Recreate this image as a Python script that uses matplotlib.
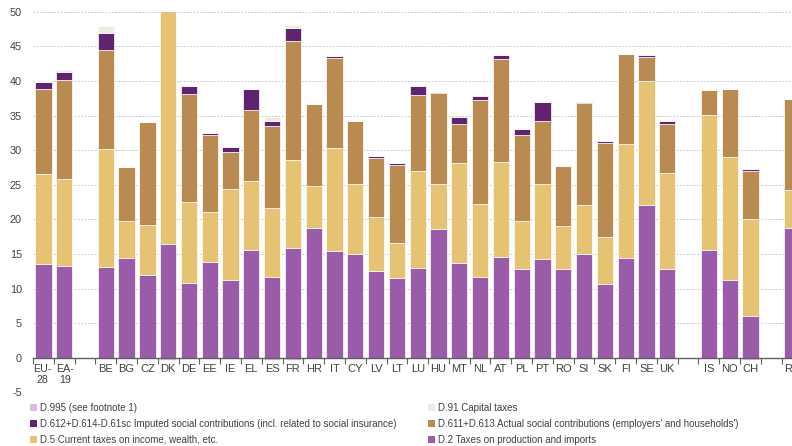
import numpy as np
import matplotlib.pyplot as plt
from matplotlib.patches import Patch

plt.rcParams['font.family'] = ['Liberation Sans', 'DejaVu Sans']
plt.rcParams['axes.unicode_minus'] = False

# categories ("" marks a gap between country groups)
categories = ["EU-\n28", "EA-\n19", "",
              "BE", "BG", "CZ", "DK", "DE", "EE", "IE", "EL", "ES", "FR",
              "HR", "IT", "CY", "LV", "LT", "LU", "HU", "MT", "NL", "AT",
              "PL", "PT", "RO", "SI", "SK", "FI", "SE", "UK", "",
              "IS", "NO", "CH", "", "RS"]

nan = np.nan
# D.2 Taxes on production and imports
d2 = [13.5, 13.2, nan,
      13.1, 14.4, 12.0, 16.5, 10.8, 13.85, 11.2, 15.6, 11.6, 15.8,
      18.75, 15.4, 14.95, 12.55, 11.45, 13.0, 18.55, 13.65, 11.6, 14.5,
      12.8, 14.2, 12.75, 15.05, 10.7, 14.35, 22.0, 12.8, nan,
      15.6, 11.3, 6.0, nan, 18.75]
# D.5 Current taxes on income, wealth, etc.
d5 = [13.0, 12.6, nan,
      17.0, 5.3, 7.2, 33.8, 11.75, 7.25, 13.2, 9.95, 10.0, 12.7,
      6.05, 14.9, 10.2, 7.8, 5.1, 13.95, 6.6, 14.45, 10.65, 13.8,
      6.9, 10.95, 6.25, 7.05, 6.75, 16.6, 18.0, 13.85, nan,
      19.5, 17.75, 14.05, nan, 5.55]
# D.611+D.613 Actual social contributions
d611 = [12.3, 14.4, nan,
        14.3, 7.85, 14.9, 0.6, 15.55, 11.1, 5.3, 10.3, 11.9, 17.2,
        11.9, 13.0, 9.05, 8.55, 11.3, 11.05, 13.1, 5.7, 15.05, 14.8,
        12.55, 9.05, 8.7, 14.65, 13.65, 12.9, 3.5, 7.1, nan,
        3.65, 9.85, 7.0, nan, 13.15]
# D.612+D.614-D.61sc Imputed social contributions
d612 = [1.0, 1.1, nan,
        2.5, 0.0, 0.0, 0.0, 1.2, 0.3, 0.7, 3.0, 0.7, 2.0,
        0.0, 0.3, 0.0, 0.3, 0.25, 1.3, 0.2, 1.05, 0.5, 0.6,
        0.85, 2.8, 0.0, 0.2, 0.15, 0.0, 0.2, 0.45, nan,
        0.0, 0.0, 0.15, nan, 0.0]
# D.91 Capital taxes
d91 = [0.2, 0.25, nan,
       1.0, 0.15, 0.1, 0.2, 0.1, 0.05, 0.1, 0.1, 0.6, 0.4,
       0.05, 0.1, 0.05, 0.0, 0.0, 0.1, 0.0, 0.0, 0.1, 0.1,
       0.1, 0.0, 0.05, 0.0, 0.0, 0.1, 0.0, 0.0, nan,
       0.1, 0.0, 0.0, nan, 0.0]
# D.995 (see footnote 1)
d995 = [0.0, 0.0, nan,
        0.0, 0.0, 0.0, -0.4, 0.0, 0.0, 0.0, 0.0, -0.3, -0.3,
        0.0, 0.0, 0.0, 0.0, 0.0, 0.0, 0.0, 0.0, 0.0, 0.0,
        0.0, 0.0, 0.0, 0.0, 0.0, 0.0, 0.0, 0.0, nan,
        0.0, 0.0, -0.3, nan, 0.0]

labels = {
    "d995": "D.995 (see footnote 1)",
    "d612": "D.612+D.614-D.61sc Imputed social contributions (incl. related to social insurance)",
    "d5": "D.5 Current taxes on income, wealth, etc.",
    "d91": "D.91 Capital taxes",
    "d611": "D.611+D.613 Actual social contributions (employers' and households')",
    "d2": "D.2 Taxes on production and imports",
}
colors = {
    "d2": "#9a5ba8",
    "d5": "#e6c373",
    "d611": "#b98b50",
    "d612": "#5f2370",
    "d91": "#eeece0",
    "d995": "#dcbde2",
}

x = np.arange(len(categories))
w = 0.78
text_col = "#404040"
lab_size = 8.0

fig = plt.figure(figsize=(7.92, 4.46), dpi=100)
ax = fig.add_axes([0.0417, 0.1204, 0.9583, 0.8533])

bottom = np.zeros(len(x))
for key, vals in [("d2", d2), ("d5", d5), ("d611", d611), ("d612", d612), ("d91", d91)]:
    v = np.nan_to_num(np.array(vals))
    ax.bar(x, v, w, bottom=bottom, color=colors[key], edgecolor="white", linewidth=0.5, zorder=3)
    bottom += v
ax.bar(x, np.nan_to_num(np.array(d995)), w, color=colors["d995"], edgecolor="white",
       linewidth=0.5, zorder=3)

# the two aggregate labels are tight, draw them by hand nudged apart
tick_text = [c if "\n" not in c else "" for c in categories]
ax.set_xticks(x)
ax.set_xticklabels(tick_text)
nudge = {0: -0.8, 1: 0.6}
for i, c in enumerate(categories):
    if "\n" in c:
        ax.annotate(c, xy=(x[i], 0), xycoords="data", xytext=(nudge.get(i, 0), -4.3),
                    textcoords="offset points", ha="center", va="top",
                    fontsize=lab_size - 0.3, color=text_col, linespacing=1.2)
ax.set_xticks(np.arange(-0.5, 36.0, 1), minor=True)
ax.set_yticks(np.arange(-5, 51, 5))
ax.set_xlim(-0.5, 36.0)
ax.set_ylim(-5, 50)
ax.tick_params(axis="x", which="major", length=0, pad=4.3, labelsize=lab_size, labelcolor=text_col)
ax.tick_params(axis="x", which="minor", length=4, color="#606060", width=0.8, direction="out")
ax.tick_params(axis="y", length=0, pad=8, labelsize=7.8, labelcolor=text_col)

for s in ["top", "right", "left"]:
    ax.spines[s].set_visible(False)
ax.spines["bottom"].set_position(("data", 0))
ax.spines["bottom"].set_color("#606060")
ax.spines["bottom"].set_linewidth(1.0)
ax.spines["bottom"].set_zorder(4)

for yv in np.arange(-5, 51, 5):
    if yv != 0:
        ax.axhline(yv, color="#cccccc", linestyle=(0, (2, 1.5)), linewidth=0.7, zorder=1)

order = ["d995", "d612", "d5", "d91", "d611", "d2"]
handles = [Patch(facecolor=colors[k], edgecolor="none", label=labels[k]) for k in order]
fig.legend(handles=handles, loc="upper left", bbox_to_anchor=(0.038, 0.097), ncol=2,
           frameon=False, fontsize=7.0, handlelength=0.7, handleheight=0.7,
           handletextpad=0.3, columnspacing=3.3, labelspacing=0.62, labelcolor=text_col,
           borderaxespad=0, borderpad=0)

fig.savefig("out.png", dpi=100)
